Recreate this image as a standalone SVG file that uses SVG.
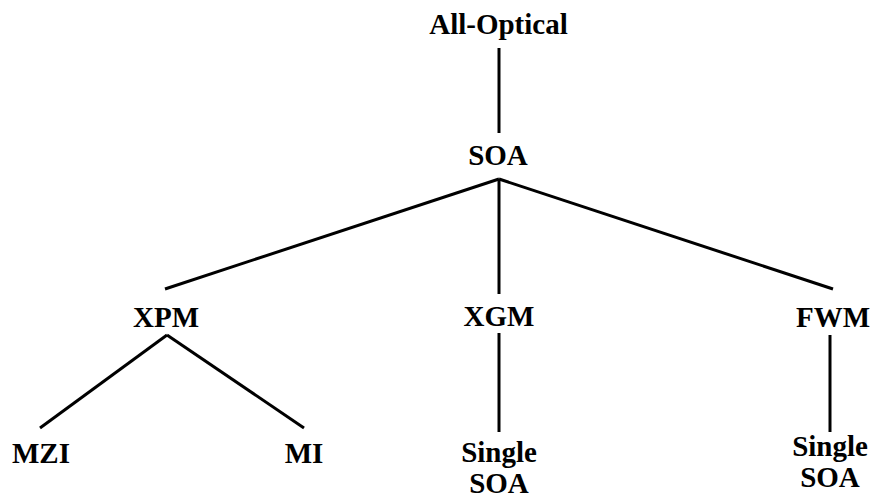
<svg xmlns="http://www.w3.org/2000/svg" width="874" height="502" viewBox="0 0 874 502">
<style>
text{font-family:"Liberation Serif","Times New Roman",serif;font-weight:bold;font-size:29px;fill:#000;text-anchor:middle}
.c line{stroke:#000;stroke-width:3;stroke-linecap:butt}
</style>
<rect width="874" height="502" fill="#fff"/>
<g class="c" id="connectors">
<line x1="499" y1="48" x2="499" y2="133"/>
<line x1="499" y1="179" x2="165" y2="289"/>
<line x1="499" y1="179" x2="499" y2="294"/>
<line x1="499" y1="179" x2="833" y2="289"/>
<line x1="167" y1="335" x2="40" y2="428"/>
<line x1="167" y1="335" x2="304" y2="428"/>
<line x1="499" y1="333" x2="499" y2="432"/>
<line x1="830" y1="335" x2="830" y2="432"/>
</g>
<g id="all-optical"><text x="498.5" y="34">All-Optical</text></g>
<g id="soa"><text x="498" y="165">SOA</text></g>
<g id="xpm"><text x="166" y="327">XPM</text></g>
<g id="xgm"><text x="499" y="326">XGM</text></g>
<g id="fwm"><text x="833" y="327">FWM</text></g>
<g id="mzi"><text x="41" y="463">MZI</text></g>
<g id="mi"><text x="304" y="463">MI</text></g>
<g id="xgm-single"><text x="499" y="462">Single</text><text x="499" y="493">SOA</text></g>
<g id="fwm-single"><text x="830" y="456">Single</text><text x="830" y="487">SOA</text></g>
</svg>
